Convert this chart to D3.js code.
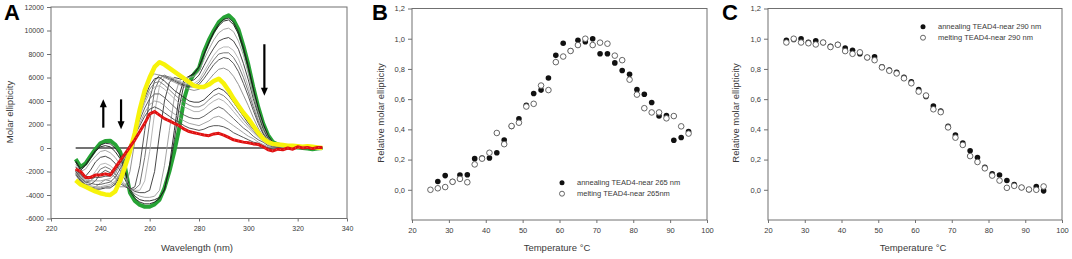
<!DOCTYPE html>
<html><head><meta charset="utf-8">
<script src="https://cdn.jsdelivr.net/npm/d3@7"></script>
<style>
body{margin:0;background:#fff;}
svg{display:block;font-family:"Liberation Sans",Arial,sans-serif;}
</style></head><body>
<svg id="chart" width="1072" height="259"></svg>
<script>
// ---------- Panel A data (CD spectra) ----------
const wavelengths = [230,232,234,236,238,240,242,244,246,248,250,252,254,256,258,260,262,264,266,268,270,272,274,276,278,280,282,284,286,288,290,292,294,296,298,300,302,304,306,308,310,312,314,316,318,320,322,324,326,328,330];
const cdGreen  = [-950,-1600,-1300,-700,-100,400,600,620,300,-300,-1600,-3800,-4500,-4850,-5000,-5000,-4800,-4400,-3400,-2000,-300,1700,4200,5600,6300,6800,8200,9200,10000,10700,11100,11300,10900,10100,8700,7100,5200,3500,2100,1100,500,300,200,150,100,50,0,-50,-100,-50,0];
const cdYellow = [-2750,-3100,-3300,-3500,-3700,-3850,-3950,-4000,-3700,-2800,-1600,-300,1300,3300,4900,6000,6900,7300,7100,6800,6500,6200,5900,5600,5300,5200,5200,5400,5700,5900,5500,4900,4200,3600,3000,2500,1900,1300,800,500,350,300,250,200,200,150,100,150,100,50,0];
const cdRed    = [-1800,-2000,-2500,-2500,-2300,-2300,-2200,-2300,-1700,-1100,-500,100,700,1400,2100,2900,3100,2800,2500,2300,2100,1900,1600,1400,1300,1200,1100,1050,1200,1250,1100,900,700,600,500,450,350,300,100,-150,-250,-100,-150,0,-100,100,0,50,-50,50,50];
const cdG8 = [-1100,-1750,-1400,-800,-200,250,400,350,0,-600,-1800,-3700,-4300,-4600,-4750,-4750,-4600,-4300,-3500,-1800,700,3500,5500,6100,6400,6900,8000,9000,9900,10550,10950,11050,10700,9900,8600,7000,5100,3400,2050,1050,450,250,150,100,50,50,0,-50,-100,-50,0];
const cdG1 = [-1200,-1900,-1500,-900,-300,100,200,100,-300,-900,-2000,-3500,-4100,-4400,-4500,-4500,-4400,-4200,-3600,-1500,1500,4500,5900,6100,6300,6900,7900,8900,9800,10400,10800,10900,10500,9700,8400,6800,5000,3300,2000,1000,400,200,100,100,0,50,-50,0,-100,0,50];
const cdG2 = [-1400,-2000,-1800,-1200,-700,-300,-200,-400,-800,-1400,-2400,-3400,-3900,-4100,-4200,-4200,-4100,-3600,-1500,1500,4300,5700,6000,6000,6100,6500,7500,8400,9200,9800,10100,10200,9900,9100,7900,6300,4600,3100,1800,900,400,200,100,50,0,50,-50,0,-100,0,50];
const cdG3 = [-1600,-2200,-2400,-1900,-1200,-800,-700,-900,-1300,-1900,-2700,-3400,-3700,-3800,-3800,-3600,-2000,1200,4000,5600,6000,5900,5800,5700,5800,6200,7000,7800,8500,9100,9300,9400,9100,8400,7200,5800,4200,2800,1600,800,300,200,100,0,50,0,-50,50,-100,0,0];
const cdG4 = [-1800,-2500,-2800,-2600,-2000,-1400,-1300,-1500,-1900,-2500,-3100,-3500,-3600,-3600,-2800,-300,3000,5300,6000,6100,5900,5700,5500,5400,5500,5800,6500,7200,7900,8400,8600,8600,8300,7600,6500,5200,3800,2500,1400,700,300,100,100,0,-50,50,0,-50,0,50,0];
const cdG7 = [-1900,-2600,-2900,-2800,-2400,-1800,-1600,-1800,-2200,-2800,-3200,-3500,-3500,-3100,-800,2200,4900,5900,6200,6000,5800,5600,5400,5300,5300,5600,6200,6900,7500,8000,8100,8100,7700,7000,6000,4800,3500,2300,1300,600,300,100,50,0,50,0,-50,0,50,0,0];
const cdG5 = [-2000,-2700,-3100,-3100,-2800,-2200,-1900,-2100,-2500,-3000,-3300,-3500,-3300,-1500,1500,4200,5700,6200,6100,5900,5700,5500,5300,5200,5200,5400,5900,6500,7100,7500,7700,7600,7200,6500,5500,4400,3200,2100,1200,600,300,100,50,0,50,-50,0,50,-50,0,0];
const cdG6 = [-2300,-2900,-3300,-3400,-3300,-3000,-2700,-2800,-3100,-3300,-3300,-2000,600,3300,5100,6000,6300,6200,6000,5800,5600,5400,5200,5000,4900,5000,5300,5800,6300,6700,6800,6600,6100,5400,4500,3600,2600,1700,1000,500,200,100,50,0,-50,0,50,0,-50,0,0];
const cdH1 = [-2200,-2800,-3200,-3400,-3500,-3500,-3400,-3400,-3100,-2400,-1300,0,1500,3000,4300,5300,5900,6000,5700,5300,4900,4600,4300,4000,3900,3900,4100,4500,4900,5100,4900,4500,3900,3300,2700,2100,1600,1100,700,400,200,100,50,0,-50,0,50,0,-50,0,0];
const cdH6 = [-2150,-2700,-3100,-3300,-3400,-3400,-3300,-3250,-2950,-2250,-1200,50,1450,2850,4050,5000,5550,5650,5350,4950,4550,4200,3900,3650,3500,3500,3700,4100,4450,4650,4450,4050,3500,2950,2400,1900,1450,1000,650,350,200,100,50,0,-50,0,50,0,-50,0,0];
const cdH2 = [-2100,-2600,-3000,-3200,-3300,-3300,-3200,-3100,-2800,-2100,-1100,100,1400,2700,3800,4700,5200,5300,5000,4600,4200,3800,3500,3300,3100,3100,3300,3700,4000,4200,4000,3600,3100,2600,2100,1700,1300,900,600,300,200,100,50,0,0,-50,0,50,0,-50,0];
const cdH3 = [-2000,-2500,-2900,-3000,-3100,-3100,-3000,-2900,-2500,-1800,-900,200,1300,2400,3400,4200,4600,4600,4300,3900,3500,3100,2800,2600,2500,2500,2700,3000,3300,3500,3300,2900,2500,2100,1700,1400,1000,700,500,200,100,50,0,-50,0,50,0,-50,0,0,0];
const cdH4 = [-1900,-2400,-2700,-2800,-2800,-2800,-2700,-2600,-2200,-1500,-700,300,1200,2100,3000,3700,4000,3900,3600,3200,2900,2600,2300,2100,2000,1900,2100,2300,2600,2700,2500,2200,1900,1600,1300,1000,800,500,300,100,0,-50,0,-100,0,50,-50,0,0,50,0];
const cdH5 = [-1800,-2300,-2600,-2600,-2500,-2500,-2400,-2400,-2000,-1300,-600,300,1100,1900,2700,3300,3500,3300,3000,2700,2400,2200,1900,1700,1600,1500,1600,1800,1900,1900,1800,1600,1300,1100,900,700,500,400,200,0,-100,-100,-50,-100,0,50,-50,0,-50,0,0];
const thinCurves = [cdG8, cdG1, cdG2, cdG3, cdG4, cdG7, cdG5, cdG6, cdH1, cdH6, cdH2, cdH3, cdH4, cdH5];
const thinColors = ["#222","#1a1a1a","#9a9a9a","#333","#b0b0b0","#666","#444","#888","#2a2a2a","#777","#aaa","#555","#999","#444"];
const xTicksA = [220,240,260,280,300,320,340];
const yTicksA = [-6000,-4000,-2000,0,2000,4000,6000,8000,10000,12000];
// arrows: wavelength, start value, head value
const arrowX  = [241.2, 248.4, 306.5];
const arrowY0 = [1730, 4140, 8830];
const arrowY1 = [4140, 1590, 4450];

// ---------- Panel B data ----------
const annealTempB = [27,29,31,33,35,37,39,41,43,45,47,49,51,53,55,57,59,61,63,65,67,69,71,73,75,77,79,81,83,85,87,89,91,93,95];
const annealB = [0.055,0.094,0.054,0.098,0.10,0.206,0.21,0.21,0.245,0.33,0.42,0.47,0.56,0.637,0.66,0.74,0.89,0.97,0.92,0.99,0.98,1.0,0.90,0.90,0.84,0.79,0.764,0.663,0.632,0.578,0.488,0.492,0.328,0.346,0.385];
const meltTempB = [25,27,29,31,33,35,37,39,41,43,45,47,49,51,53,55,57,59,61,63,65,67,69,71,73,75,77,79,81,83,85,87,89,91,93,95];
const meltB = [0.0,0.01,0.018,0.053,0.072,0.05,0.168,0.206,0.245,0.376,0.302,0.422,0.444,0.551,0.569,0.69,0.66,0.845,0.882,0.919,0.958,1.0,0.958,0.974,0.967,0.888,0.858,0.729,0.63,0.54,0.512,0.512,0.473,0.488,0.42,0.372];

// ---------- Panel C data ----------
const tempC = [25,27,29,31,33,35,37,39,41,43,45,47,49,51,53,55,57,59,61,63,65,67,69,71,73,75,77,79,81,83,85,87,89,91,93,95];
const annealC = [0.99,0.995,1.0,0.976,0.987,0.975,0.95,0.962,0.938,0.923,0.90,0.876,0.88,0.814,0.792,0.777,0.745,0.714,0.664,0.618,0.555,0.522,0.421,0.362,0.31,0.258,0.214,0.149,0.105,0.098,0.061,0.035,0.015,0.0,0.022,-0.007];
const meltC = [0.975,1.0,0.975,0.97,0.962,0.975,0.945,0.96,0.918,0.90,0.91,0.876,0.858,0.81,0.788,0.77,0.738,0.705,0.65,0.624,0.533,0.514,0.413,0.345,0.297,0.223,0.184,0.142,0.094,0.061,0.013,0.026,0.015,0.002,0.0,0.022];

const xTicksT = [20,30,40,50,60,70,80,90,100];
const yTicksRel = [0,0.2,0.4,0.6,0.8,1.0,1.2];
const legendB = ["annealing TEAD4-near 265 nm","melting TEAD4-near 265nm"];
const legendC = ["annealing TEAD4-near 290 nm","melting TEAD4-near 290 nm"];

// ---------- drawing ----------
const svg = d3.select("#chart");
const FRAME = "#707070";
const TXT = "#3a3a3a";

function axesFrame(x, y, xt, yt, yfmt, fs) {
  const g = svg.append("g");
  const gx = g.append("g").attr("transform", `translate(0,${y.range()[0]})`)
    .call(d3.axisBottom(x).tickValues(xt).tickSize(3).tickPadding(5).tickFormat(d => String(d)));
  const gy = g.append("g").attr("transform", `translate(${x.range()[0]},0)`)
    .call(d3.axisLeft(y).tickValues(yt).tickSize(4).tickPadding(3).tickFormat(yfmt));
  [gx, gy].forEach(a => {
    a.select(".domain").remove();
    a.selectAll("line").attr("stroke", FRAME);
    a.selectAll("text").attr("fill", TXT).style("font-size", fs + "px");
  });
  g.append("rect")
    .attr("x", x.range()[0]).attr("y", y.range()[1])
    .attr("width", x.range()[1] - x.range()[0])
    .attr("height", y.range()[0] - y.range()[1])
    .attr("fill", "none").attr("stroke", FRAME).attr("stroke-width", 1);
  return g;
}
function labels(title, tx, xlab, xlx, ylab, ylx, yly) {
  svg.append("text").attr("x", tx).attr("y", 20).text(title)
    .style("font-size", "22px").style("font-weight", "bold").attr("fill", "#000");
  svg.append("text").attr("x", xlx).attr("y", 251).attr("text-anchor", "middle")
    .style("font-size", "9.5px").attr("fill", TXT).text(xlab);
  svg.append("text").attr("transform", `translate(${ylx},${yly}) rotate(-90)`)
    .attr("text-anchor", "middle").style("font-size", "9.5px").attr("fill", TXT).text(ylab);
}

// Panel A
const xA = d3.scaleLinear().domain([220, 340]).range([51, 347]);
const yA = d3.scaleLinear().domain([-6000, 12000]).range([218.5, 7]);
axesFrame(xA, yA, xTicksA, yTicksA, d => String(d), 7);
labels("A", 4, "Wavelength (nm)", 197, "Molar ellipticity", 13, 112);

const gA = svg.append("g");
gA.append("line").attr("x1", xA(230)).attr("x2", xA(330)).attr("y1", yA(0)).attr("y2", yA(0))
  .attr("stroke", "#444").attr("stroke-width", 1.3);
const lineA = vals => d3.line().x((d, i) => xA(wavelengths[i])).y(d => yA(d))(vals);
gA.append("path").attr("d", lineA(cdGreen)).attr("fill", "none").attr("stroke", "#26a335")
  .attr("stroke-width", 4).attr("stroke-linejoin", "round");
thinCurves.forEach((c, k) => {
  gA.append("path").attr("d", lineA(c)).attr("fill", "none")
    .attr("stroke", thinColors[k]).attr("stroke-width", 0.9);
});
gA.append("path").attr("d", lineA(cdYellow)).attr("fill", "none").attr("stroke", "#f7f30a")
  .attr("stroke-width", 4.5).attr("stroke-linejoin", "round");
gA.append("path").attr("d", lineA(cdRed)).attr("fill", "none").attr("stroke", "#e01010")
  .attr("stroke-width", 3).attr("stroke-linejoin", "round");
gA.append("path").attr("d", lineA(cdRed)).attr("fill", "none").attr("stroke", "#f08080")
  .attr("stroke-width", 0.7).attr("stroke-dasharray", "1,3");
// arrows
arrowX.forEach((ax, i) => {
  const px = xA(ax), p0 = yA(arrowY0[i]), p1 = yA(arrowY1[i]);
  const dir = p1 < p0 ? -1 : 1;
  gA.append("line").attr("x1", px).attr("x2", px).attr("y1", p0).attr("y2", p1 - dir * 7)
    .attr("stroke", "#000").attr("stroke-width", 2.2);
  gA.append("path").attr("d", `M${px - 3.5},${p1 - dir * 8} L${px + 3.5},${p1 - dir * 8} L${px},${p1} Z`)
    .attr("fill", "#000");
});

// Panels B and C
const relFmt = d => d.toFixed(1).replace(".", ",");
function scatterPanel(x, y, aT, aV, mT, mV, leg, legX, legY) {
  axesFrame(x, y, xTicksT, yTicksRel, relFmt, 7.5);
  const g = svg.append("g");
  g.selectAll("circle.f").data(aV).join("circle").attr("class", "f")
    .attr("cx", (d, i) => x(aT[i])).attr("cy", d => y(d)).attr("r", 2.8).attr("fill", "#111");
  g.selectAll("circle.o").data(mV).join("circle").attr("class", "o")
    .attr("cx", (d, i) => x(mT[i])).attr("cy", d => y(d)).attr("r", 2.8)
    .attr("fill", "#fff").attr("stroke", "#555").attr("stroke-width", 0.9);
  // legend
  leg.forEach((t, i) => {
    const yy = legY + i * 11;
    g.append("circle").attr("cx", legX).attr("cy", yy).attr("r", 2.5)
      .attr("fill", i === 0 ? "#111" : "#fff").attr("stroke", i === 0 ? "none" : "#555").attr("stroke-width", 0.9);
    g.append("text").attr("x", legX + 15).attr("y", yy + 2.7).text(t)
      .style("font-size", "7.5px").attr("fill", TXT);
  });
}
const xB = d3.scaleLinear().domain([20, 100]).range([412, 707]);
const yB = d3.scaleLinear().domain([-0.2, 1.2]).range([220, 8.5]);
scatterPanel(xB, yB, annealTempB, annealB, meltTempB, meltB, legendB, 562, 182.7);
labels("B", 372, "Temperature °C", 557, "Relative molar ellipticity", 384, 113);

const xC = d3.scaleLinear().domain([20, 100]).range([768, 1062]);
const yC = d3.scaleLinear().domain([-0.2, 1.2]).range([220, 8.5]);
scatterPanel(xC, yC, tempC, annealC, tempC, meltC, legendC, 923, 26.7);
labels("C", 722, "Temperature °C", 913, "Relative molar ellipticity", 739, 113);
</script>
</body></html>
